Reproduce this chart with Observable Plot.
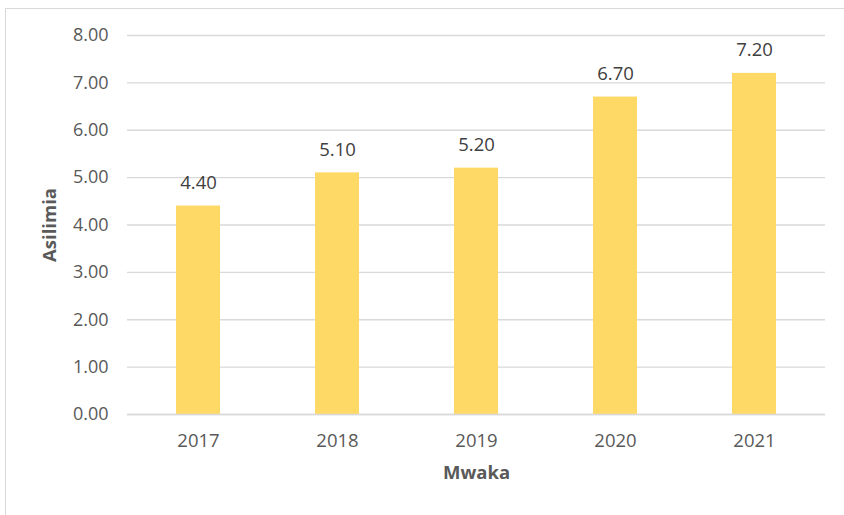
<!DOCTYPE html>
<html>
<head>
<meta charset="utf-8">
<script src="https://cdn.jsdelivr.net/npm/d3@7"></script>
<script src="https://cdn.jsdelivr.net/npm/@observablehq/plot@0.6"></script>
<style>
  html, body { margin: 0; padding: 0; background: #fff; overflow: hidden; }
  #wrap { position: relative; width: 844px; height: 515px; }
  #frame { position: absolute; left: 5px; top: 8px; width: 900px; height: 600px;
           border: 1.5px solid #d9d9d9; box-sizing: border-box; pointer-events: none; }
  #chart { position: absolute; left: 0; top: 0; }
</style>
</head>
<body>
<div id="wrap"><div id="frame"></div><div id="chart"></div></div>
<script>
const years = ["2017", "2018", "2019", "2020", "2021"];
const values = [4.40, 5.10, 5.20, 6.70, 7.20];
const yTicks = [0, 1, 2, 3, 4, 5, 6, 7, 8];
const xLabel = "Mwaka";
const yLabel = "Asilimia";

const data = years.map((y, i) => ({ year: y, value: values[i] }));
const font = "'Open Sans', 'Noto Sans', sans-serif";

const chart = Plot.plot({
  width: 844,
  height: 515,
  marginTop: 35,
  marginBottom: 101,
  marginLeft: 127,
  marginRight: 19,
  style: { fontFamily: font, fontSize: "18px", color: "#595959", background: "transparent" },
  x: { domain: years, paddingInner: 0.685, paddingOuter: 0.3425, label: null },
  y: { domain: [0, 8], ticks: yTicks, label: null },
  marks: [
    Plot.gridY(yTicks, { stroke: "#d9d9d9", strokeOpacity: 1, strokeWidth: 1.3 }),
    Plot.barY(data, { x: "year", y: "value", fill: "#FFD966" }),
    Plot.ruleY([0], { stroke: "#d9d9d9", strokeWidth: 1.3 }),
    Plot.axisY({ ticks: yTicks, tickFormat: d => d.toFixed(2), tickSize: 0, tickPadding: 19, fontSize: 18, fill: "#595959", label: null }),
    Plot.axisX({ tickSize: 0, tickPadding: 19, fontSize: 18.5, fill: "#595959", label: null }),
    Plot.text(data, { x: "year", y: "value", text: d => d.value.toFixed(2), dy: -23, fontSize: 18.5, fill: "#404040" }),
    Plot.text([xLabel], { frameAnchor: "bottom", dy: 64, text: d => d, fontSize: 18.5, fontWeight: "bold", fill: "#595959" }),
    Plot.text([yLabel], { frameAnchor: "left", dx: -77, rotate: -90, text: d => d, fontSize: 18.5, fontWeight: "bold", fill: "#595959", textAnchor: "middle" })
  ]
});
document.getElementById("chart").appendChild(chart);
</script>
</body>
</html>
